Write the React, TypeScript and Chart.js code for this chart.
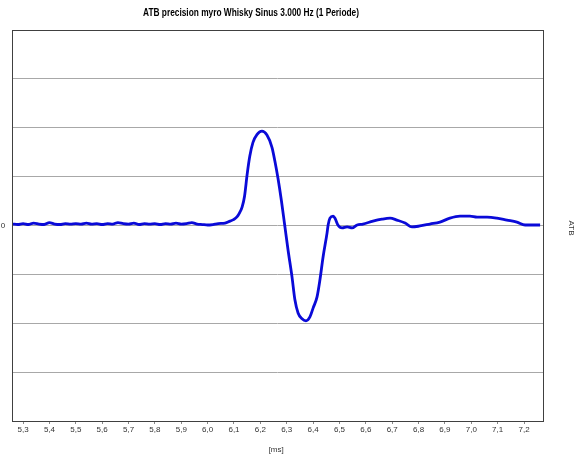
import React, { useEffect, useRef } from "react";
import { Chart, registerables } from "chart.js";

Chart.register(...registerables);

const TITLE = "ATB precision myro Whisky Sinus 3.000 Hz (1 Periode)";
const X_UNIT = "[ms]";
const Y_UNIT = "ATB";

const X_TICKS = [5.3, 5.4, 5.5, 5.6, 5.7, 5.8, 5.9, 6.0, 6.1, 6.2, 6.3, 6.4, 6.5, 6.6, 6.7, 6.8, 6.9, 7.0, 7.1, 7.2];
const Y_TICKS = [-4, -3, -2, -1, 0, 1, 2, 3, 4];

const TIME_MS = [
  5.26, 5.28, 5.30, 5.32, 5.34, 5.36, 5.38, 5.40, 5.42, 5.44, 5.46, 5.48, 5.50, 5.52, 5.54, 5.56, 5.58, 5.60,
  5.62, 5.64, 5.66, 5.68, 5.70, 5.72, 5.74, 5.76, 5.78, 5.80, 5.82, 5.84, 5.86, 5.88, 5.90, 5.92, 5.94, 5.96,
  5.98, 6.00, 6.02, 6.04, 6.066, 6.085, 6.098, 6.112, 6.122, 6.131, 6.140, 6.150, 6.160, 6.172, 6.187,
  6.206, 6.225, 6.244, 6.255, 6.267, 6.280, 6.292, 6.305, 6.320, 6.331, 6.343, 6.358, 6.373, 6.388, 6.400,
  6.415, 6.426, 6.438, 6.453, 6.457, 6.464, 6.476, 6.483, 6.494, 6.510, 6.529, 6.548, 6.567, 6.589, 6.627,
  6.661, 6.692, 6.718, 6.749, 6.775, 6.805, 6.843, 6.881, 6.919, 6.957, 6.995, 7.022, 7.060, 7.097, 7.135,
  7.173, 7.204, 7.234, 7.261,
];

const SIGNAL = [
  0.03, 0.02, 0.04, 0.02, 0.05, 0.03, 0.02, 0.06, 0.03, 0.02, 0.04, 0.03, 0.04, 0.03, 0.05, 0.03, 0.04, 0.02,
  0.04, 0.03, 0.06, 0.04, 0.03, 0.05, 0.02, 0.04, 0.03, 0.04, 0.02, 0.04, 0.03, 0.05, 0.03, 0.04, 0.06, 0.03,
  0.02, 0.01, 0.02, 0.04, 0.05, 0.09, 0.12, 0.18, 0.27, 0.38, 0.6, 1.05, 1.42, 1.7, 1.86,
  1.93, 1.85, 1.6, 1.32, 0.96, 0.5, 0.02, -0.5, -1.05, -1.52, -1.79, -1.91, -1.95, -1.87, -1.69,
  -1.46, -1.11, -0.64, -0.15, 0.01, 0.15, 0.19, 0.15, 0.01, -0.05, -0.03, -0.05, 0.01, 0.03, 0.09,
  0.13, 0.15, 0.11, 0.05, -0.03, -0.01, 0.03, 0.07, 0.15, 0.19, 0.19, 0.17, 0.17, 0.15, 0.11,
  0.07, 0.01, 0.01, 0.01,
];

const X_MIN = 5.258;
const X_MAX = 7.272;
const Y_MIN = -4;
const Y_MAX = 4;

const FONT = "Arial, 'Liberation Sans', sans-serif";

export default function App() {
  const ref = useRef<HTMLCanvasElement | null>(null);

  useEffect(() => {
    const canvas = ref.current;
    if (!canvas) return;

    const decor = {
      id: "decor",
      afterDraw(chart: any) {
        const { ctx, chartArea } = chart;
        const ys = chart.scales.y;
        const xs = chart.scales.x;
        ctx.save();
        // border
        ctx.strokeStyle = "#404040";
        ctx.lineWidth = 1;
        ctx.strokeRect(
          Math.round(chartArea.left) + 0.5,
          Math.round(chartArea.top) + 0.5,
          Math.round(chartArea.right - chartArea.left),
          Math.round(chartArea.bottom - chartArea.top)
        );
        // title (condensed to the reference width)
        ctx.save();
        ctx.fillStyle = "#000";
        ctx.font = `bold 10px ${FONT}`;
        ctx.textAlign = "center";
        ctx.textBaseline = "middle";
        const w = ctx.measureText(TITLE).width;
        ctx.translate(251, 13);
        ctx.scale(216 / w, 1);
        ctx.fillText(TITLE, 0, 0);
        ctx.restore();
        // zero label
        ctx.font = `8px ${FONT}`;
        ctx.fillStyle = "#333";
        ctx.textAlign = "center";
        ctx.textBaseline = "middle";
        ctx.fillText("0", 3, ys.getPixelForValue(0));
        // x unit
        ctx.fillText(X_UNIT, xs.getPixelForValue(6.26), 450);
        // y unit rotated
        ctx.translate(571, 228);
        ctx.rotate(Math.PI / 2);
        ctx.fillText(Y_UNIT, 0, 0);
        ctx.restore();
      },
    };

    const chart = new Chart(canvas, {
      type: "line",
      data: {
        datasets: [
          {
            data: TIME_MS.map((t, i) => ({ x: t, y: SIGNAL[i] })),
            borderColor: "#0a0ad8",
            borderWidth: 2.8,
            pointRadius: 0,
            cubicInterpolationMode: "monotone",
            fill: false,
          },
        ],
      },
      options: {
        responsive: false,
        animation: false,
        events: [],
        layout: { padding: { left: 12, top: 30, right: 35, bottom: 0 } },
        plugins: {
          legend: { display: false },
          title: { display: false },
          tooltip: { enabled: false },
        },
        scales: {
          x: {
            type: "linear",
            min: X_MIN,
            max: X_MAX,
            afterBuildTicks: (s: any) => {
              s.ticks = X_TICKS.map((v) => ({ value: v }));
            },
            afterFit: (s: any) => {
              s.height = 40;
            },
            grid: {
              drawOnChartArea: false,
              drawTicks: true,
              tickLength: 3,
              color: "#888",
            },
            border: { display: false },
            ticks: {
              autoSkip: false,
              maxRotation: 0,
              padding: 1,
              color: "#333",
              font: { family: FONT, size: 8 },
              callback: (v: any) => Number(v).toFixed(1).replace(".", ","),
            },
          },
          y: {
            type: "linear",
            min: Y_MIN,
            max: Y_MAX,
            afterBuildTicks: (s: any) => {
              s.ticks = Y_TICKS.map((v) => ({ value: v }));
            },
            afterFit: (s: any) => {
              s.width = 0;
            },
            grid: {
              color: "#a8a8a8",
              lineWidth: 1,
              drawTicks: false,
            },
            border: { display: false },
            ticks: { display: false },
          },
        },
      },
      plugins: [decor],
    });

    return () => chart.destroy();
  }, []);

  return (
    <div style={{ position: "fixed", left: 0, top: 0, width: 578, height: 461, background: "#fff" }}>
      <canvas ref={ref} width={578} height={461} style={{ display: "block" }} />
    </div>
  );
}
